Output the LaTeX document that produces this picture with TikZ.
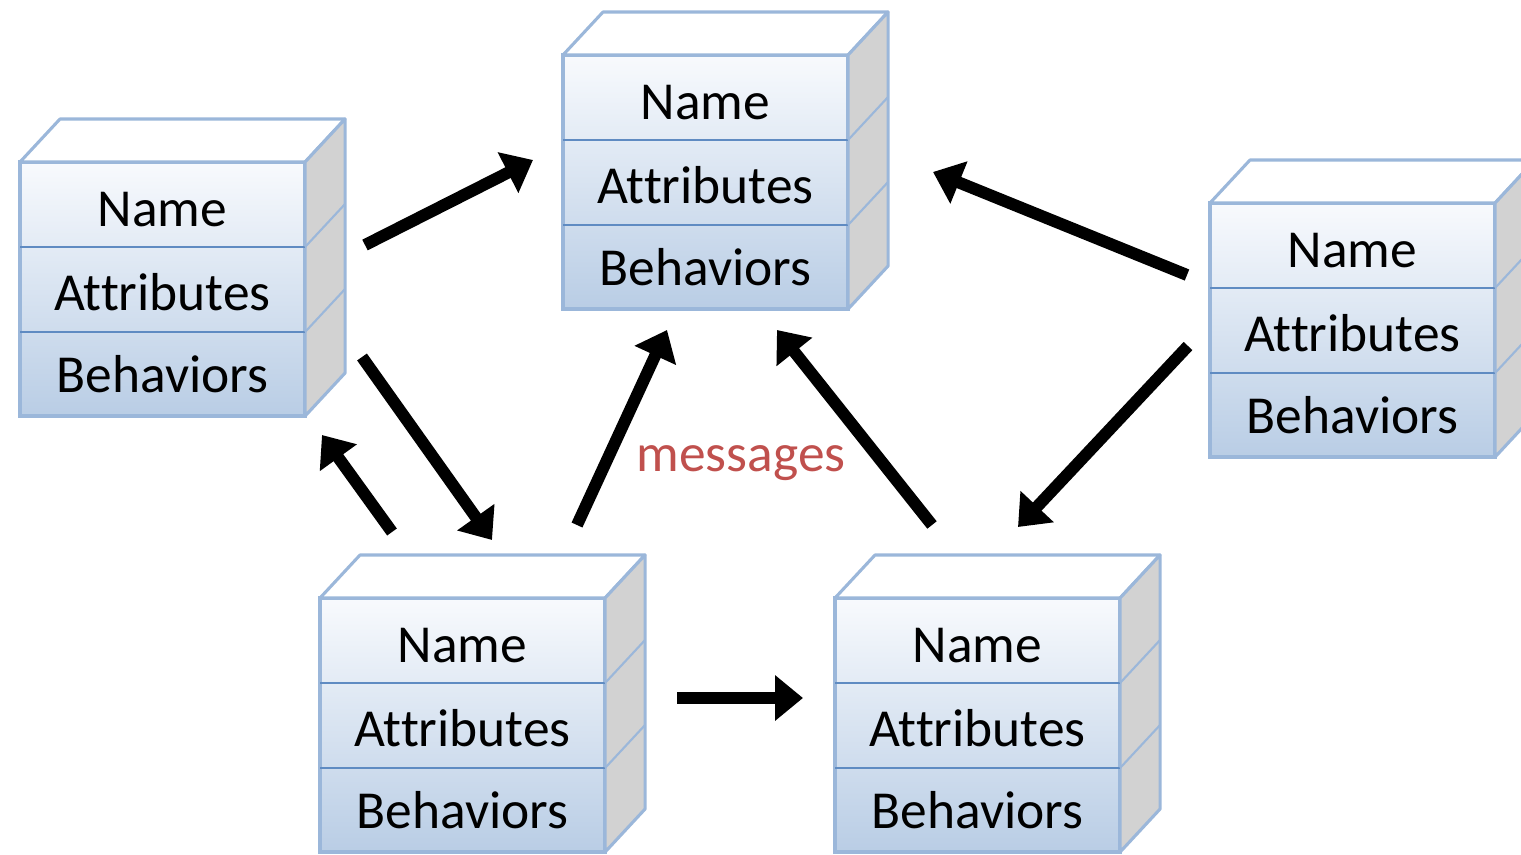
\documentclass[tikz,border=0pt]{standalone}
\usepackage{fontspec}
\setmainfont[Ligatures=NoCommon]{Carlito}
\usetikzlibrary{arrows.meta,calc}

\definecolor{boxline}{HTML}{9BB7DA}
\definecolor{boxsep}{HTML}{5F8BC2}
\definecolor{boxtop}{HTML}{F8FAFD}
\definecolor{boxbot}{HTML}{B9CDE5}
\definecolor{boxside}{HTML}{D2D2D2}
\definecolor{msgred}{HTML}{C0504D}

\tikzset{
  front/.style={draw=boxline, line width=2.6pt, top color=boxtop, bottom color=boxbot,
    minimum width=7.125cm, minimum height=6.35cm, inner sep=0pt, outer sep=0pt, anchor=north west},
  face/.style={draw=boxline, line width=2.2pt, line join=round},
  part/.style={font=\fontsize{38}{42}\selectfont},
  msg/.style={line width=8.5pt, -{Triangle[length=0.7cm,width=1.1cm]}}
}

% #1 name, #2/#3 top left corner of the front face
\newcommand\objbox[3]{
  \node[front] (#1) at (#2,#3) {};
  \filldraw[face, fill=white] (#1.north west) -- ++(40,-43) -- ++(285,0) -- (#1.north east) -- cycle;
  \filldraw[face, fill=boxside] (#1.north east) -- ++(40,-43) -- ++(0,254) -- (#1.south east) -- cycle;
  \foreach \d in {85,170}{
    \draw[boxsep, line width=1.8pt] ($(#1.north west)+(0,\d)$) -- ++(285,0);
    \draw[boxline, line width=1.5pt] ($(#1.north east)+(0,\d)$) -- ++(40,-43);
  }
  \node[part] (#1-n) at ($(#1.north)+(0,48)$) {Name};
  \node[part] (#1-a) at ($(#1.north)+(0,130)$) {Attributes};
  \node[part] (#1-b) at ($(#1.north)+(0,212)$) {Behaviors};
}

\begin{document}
\begin{tikzpicture}[x=0.025cm, y=-0.025cm]
	\useasboundingbox (0,0) rectangle (1521,855);
	\clip (0,0) rectangle (1521,855);

	\objbox{top}{563}{55}
	\objbox{left}{20}{162}
	\objbox{right}{1210}{203}
	\objbox{lower}{320}{598}
	\objbox{other}{835}{598}

	\node[text=msgred, font=\fontsize{38}{42}\selectfont] (messages) at (741,463) {messages};

	% ends of the message arrows
	\foreach \n/\x/\y in {lt1/365/245, lt2/533/160, rt1/1187/275, rt2/933/172,
		ll1/362/357, ll2/492/540, wl1/392/532, wl2/322/435,
		wt1/577/525, wt2/667/330, ot1/932/525, ot2/777/330,
		ro1/1188/346, ro2/1018/527, wo1/677/698, wo2/803/698}
		\coordinate (\n) at (\x,\y);

	\foreach \a/\b in {lt1/lt2, rt1/rt2, ll1/ll2, wl1/wl2, wt1/wt2, ot1/ot2, ro1/ro2, wo1/wo2}
		\draw[msg] (\a) -- (\b);

\end{tikzpicture}
\end{document}
